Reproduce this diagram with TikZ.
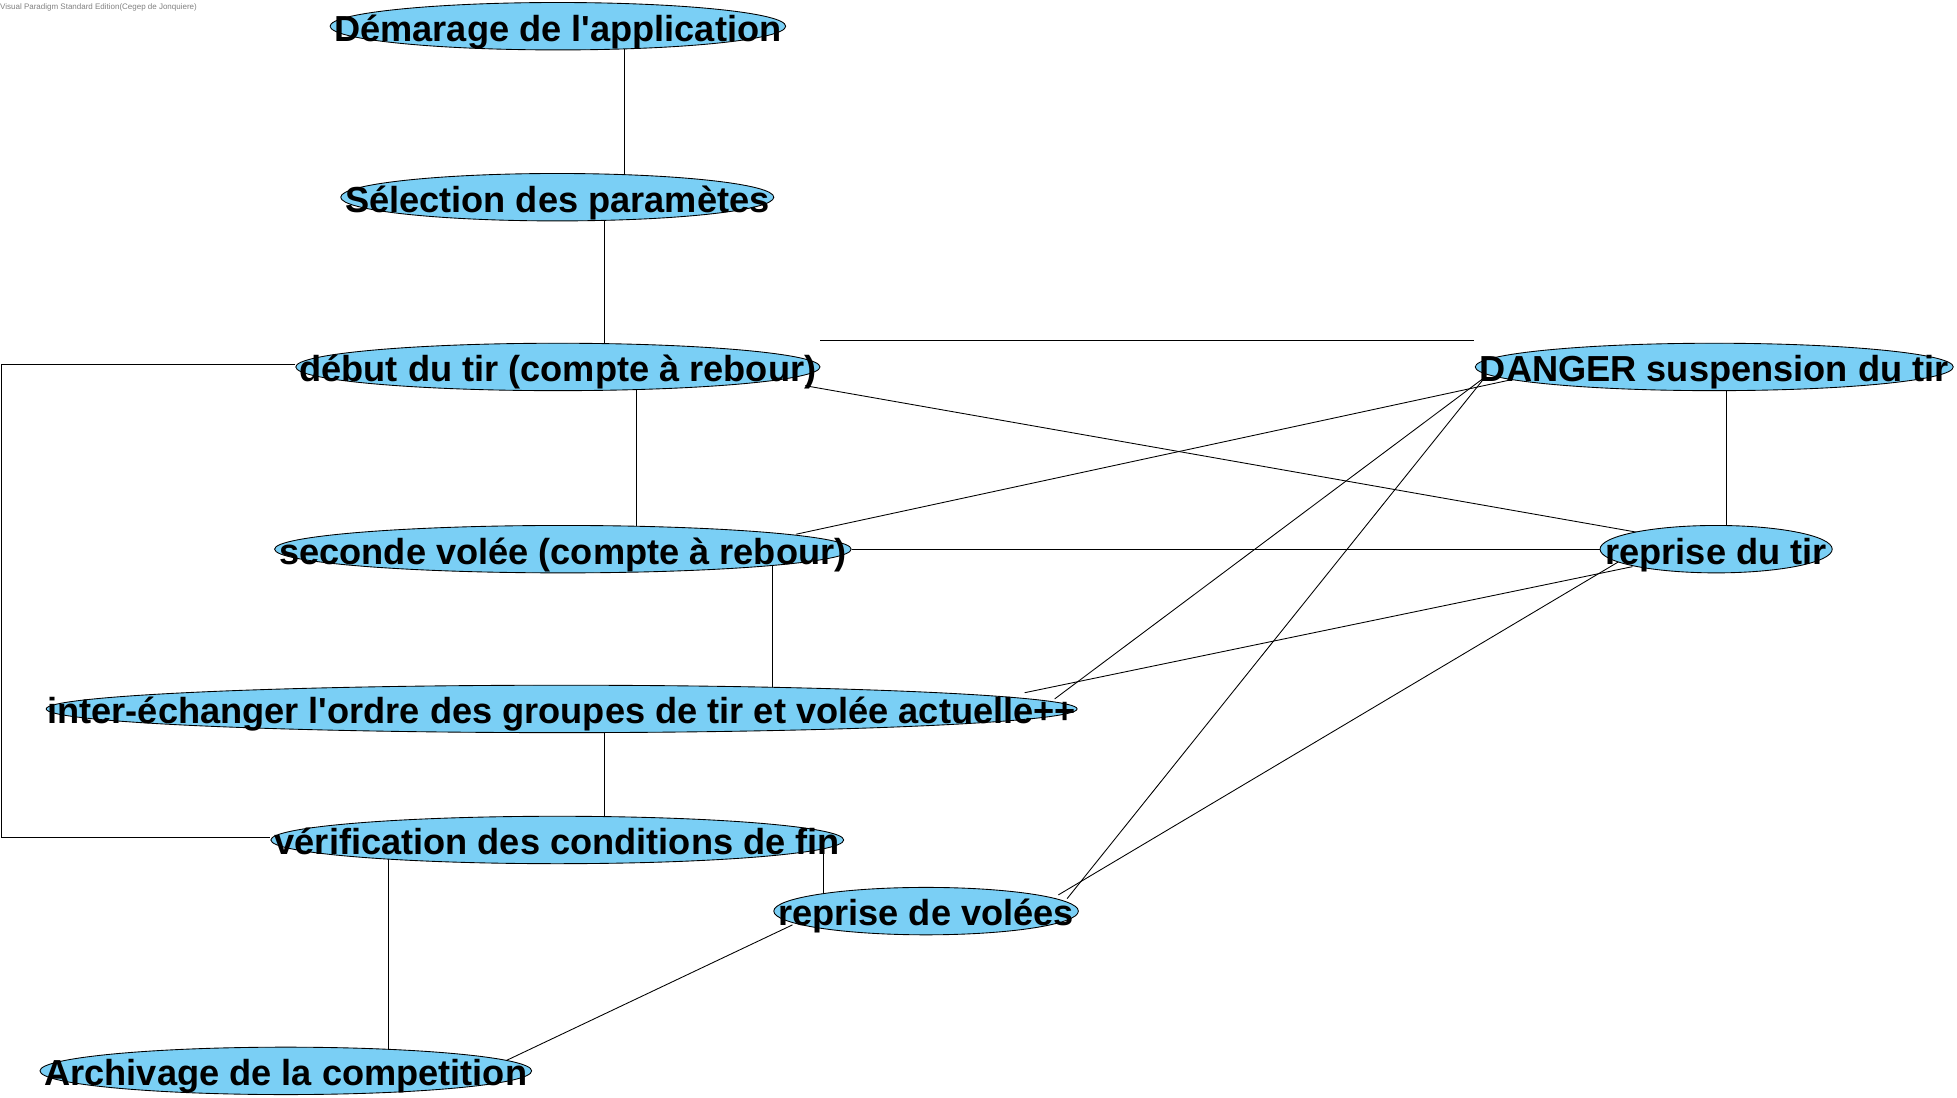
\documentclass[tikz,border=0pt]{standalone}
\usepackage{fontspec}
\setmainfont{Liberation Sans}
\usetikzlibrary{shapes.geometric,calc,backgrounds}
\definecolor{ucblue}{RGB}{122,207,245}
\tikzset{uc/.style={ellipse,draw=black,fill=ucblue,line width=0.7pt,inner sep=0pt,minimum height=38pt,minimum width=#1,font=\fontsize{29}{31}\selectfont\bfseries},
    lien/.style={draw=black,line width=0.7pt}}
\newcommand{\uclabel}[1]{\makebox[0pt]{\raisebox{-0.41em}[0pt][0pt]{#1}}}
\begin{document}
\begin{tikzpicture}[x=1pt,y=-1pt]
    \useasboundingbox (0,0) rectangle (1568,879);
    \node [anchor=base west,inner sep=0pt,text=gray,font=\fontsize{6.4}{7}\selectfont] (entete) at (0,8) {Visual Paradigm Standard Edition(Cegep de Jonquiere)};
    \node [uc=365pt] (demarrage) at (447,21) {\uclabel{Démarage de l\textquotesingle application}};
    \node [uc=347pt] (selection) at (446.5,158) {\uclabel{Sélection des paramètes}};
    \node [uc=420pt] (debut) at (447,294) {\uclabel{début du tir (compte à rebour)}};
    \node [uc=383pt] (danger) at (1373.5,294) {\uclabel{DANGER suspension du tir}};
    \node [uc=462pt] (seconde) at (451,440) {\uclabel{seconde volée (compte à rebour)}};
    \node [uc=186pt] (reprisetir) at (1375,440) {\uclabel{reprise du tir}};
    \node [uc=826pt] (inter) at (450,568) {\uclabel{inter-échanger l\textquotesingle ordre des groupes de tir et volée actuelle++}};
    \node [uc=459pt] (verif) at (446.5,673) {\uclabel{vérification des conditions de fin}};
    \node [uc=244pt] (reprisevolees) at (742,730) {\uclabel{reprise de volées}};
    \node [uc=394pt] (archivage) at (229,858) {\uclabel{Archivage de la competition}};
    \coordinate (ligneA) at (657,273);
    \coordinate (ligneB) at (1181,273);
    \begin{pgfonlayer}{background}
    \draw [lien] (demarrage -| 500,0) -- (selection -| 500,0);
    \draw [lien] (selection -| 484,0) -- (debut -| 484,0);
    \draw [lien] (debut -| 510,0) -- (seconde -| 510,0);
    \draw [lien] (seconde -| 619,0) -- (inter -| 619,0);
    \draw [lien] (inter -| 484,0) -- (verif -| 484,0);
    \draw [lien] (verif -| 311,0) -- (archivage -| 311,0);
    \draw [lien] (verif -| 660,0) -- (reprisevolees -| 660,0);
    \draw [lien] (danger -| 1383,0) -- (reprisetir -| 1383,0);
    \draw [lien] ($(debut.west)+(0,-2)$) -- ($(debut.west -| 1,0)+(0,-2)$) |- ($(verif.west)+(0,-2)$);
    \draw [lien] (ligneA) -- (ligneB);
    \draw [lien] ($(debut)+(198,15)$) -- ($(reprisetir)+(-63,-13.5)$);
    \draw [lien] ($(seconde)+(187,-12)$) -- ($(danger)+(-161.5,10)$);
    \draw [lien] (seconde.east) -- (reprisetir.west);
    \draw [lien] ($(inter)+(371,-13)$) -- ($(reprisetir)+(-67,14)$);
    \draw [lien] ($(inter)+(395,-8)$) -- ($(danger)+(-183.5,8)$);
    \draw [lien] ($(reprisevolees)+(106,-13)$) -- ($(reprisetir)+(-78,10)$);
    \draw [lien] ($(reprisevolees)+(113,-10)$) -- ($(danger)+(-183.5,8)$);
    \draw [lien] ($(reprisevolees)+(-107,11)$) -- ($(archivage)+(176,-8)$);
    \end{pgfonlayer}
\end{tikzpicture}
\end{document}
